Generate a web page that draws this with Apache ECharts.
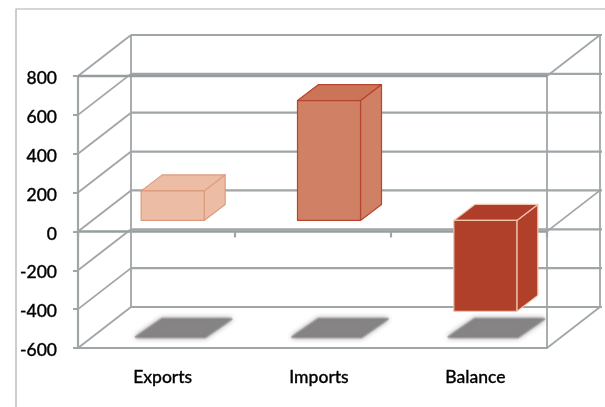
<!DOCTYPE html>
<html>
<head>
<meta charset="utf-8">
<style>html,body{margin:0;padding:0;background:#fff}#c{width:605px;height:407px}</style>
<script src="https://cdn.jsdelivr.net/npm/echarts@6/dist/echarts.min.js"></script>
</head>
<body>
<div id="c"></div>
<script>
const categories = ['Exports', 'Imports', 'Balance'];
const values = [152, 617, -468];
const yTicks = [-600, -400, -200, 0, 200, 400, 600, 800];
const fillColors = ['#EDBCA5', '#D08064', '#B0402A'];
const topColors = ['#EDBCA5', '#CC7458', '#AE3E29'];
const edgeColors = ['#DC9A7C', '#B9442D', '#F2C4AC'];

const WALL_DX = 53, WALL_DY = -41;
const BAR_DX = 21, BAR_DY = -16, BAR_SHIFT_X = 16.5, BAR_SHIFT_Y = -11, BAR_W = 63;
const LINE = '#A0A5A7';
const FONT = 'Lato, "Open Sans", sans-serif';

function seg(a, b, width, color) {
  return {
    type: 'line',
    shape: {x1: a[0], y1: a[1], x2: b[0], y2: b[1]},
    style: {stroke: color || LINE, lineWidth: width || 1.8}
  };
}

function renderWalls(params, api) {
  const n = categories.length;
  const size = api.size([1, 0])[0];
  const left = api.coord([0, 0])[0] - size / 2;
  const right = left + n * size;
  const children = [];
  const yOf = v => api.coord([0, v])[1];
  const yTop = yOf(yTicks[yTicks.length - 1]);
  const yBot = yOf(yTicks[0]);
  yTicks.forEach(function (t) {
    const y = yOf(t);
    children.push(seg([left + WALL_DX, y + WALL_DY], [right + WALL_DX + 2, y + WALL_DY], 2.2));
    children.push(seg([left, y], [left + WALL_DX, y + WALL_DY], 1.8));
  });
  children.push(seg([left + WALL_DX, yTop + WALL_DY], [left + WALL_DX, yBot + WALL_DY], 1.8));
  children.push(seg([right + WALL_DX, yTop + WALL_DY], [right + WALL_DX, yBot + WALL_DY], 1.8));
  children.push(seg([right, yTop], [right, yBot], 1.8));
  [yTop, yOf(0), yBot].forEach(function (y) {
    children.push(seg([right, y], [right + WALL_DX, y + WALL_DY], 1.7));
  });
  children.push(seg([left, yTop], [right, yTop], 2.6, '#979D9F'));
  return {type: 'group', children: children};
}

function renderShadow(params, api) {
  const p = api.coord([api.value(0), yTicks[0]]);
  const x = p[0] + 13, y = p[1];
  return {
    type: 'polygon',
    shape: {points: [[x - 33, y - 11], [x + 36, y - 11], [x + 62, y - 29], [x - 7, y - 29]]},
    style: {fill: '#868484', stroke: 'rgba(134,132,132,0.6)', lineWidth: 3, lineJoin: 'round',
      shadowBlur: 5, shadowColor: 'rgba(134,132,132,0.8)'}
  };
}

function renderBar(params, api) {
  const i = api.value(0);
  const v = api.value(1);
  const a = api.coord([i, v]);
  const b = api.coord([i, 0]);
  const x0 = a[0] + BAR_SHIFT_X - BAR_W / 2;
  const x1 = x0 + BAR_W;
  const yA = Math.min(a[1], b[1]) + BAR_SHIFT_Y;
  const yB = Math.max(a[1], b[1]) + BAR_SHIFT_Y;
  const edge = {stroke: edgeColors[i], lineWidth: 1.2, lineJoin: 'round'};
  return {
    type: 'group',
    children: [
      {type: 'polygon',
        shape: {points: [[x1, yA], [x1 + BAR_DX, yA + BAR_DY], [x1 + BAR_DX, yB + BAR_DY], [x1, yB]]},
        style: Object.assign({fill: fillColors[i]}, edge)},
      {type: 'polygon',
        shape: {points: [[x0, yA], [x0 + BAR_DX, yA + BAR_DY], [x1 + BAR_DX, yA + BAR_DY], [x1, yA]]},
        style: Object.assign({fill: topColors[i]}, edge)},
      {type: 'rect',
        shape: {x: x0, y: yA, width: BAR_W, height: yB - yA},
        style: Object.assign({fill: fillColors[i]}, edge)}
    ]
  };
}

const chart = echarts.init(document.getElementById('c'), null, {renderer: 'canvas'});
chart.setOption({
  animation: false,
  backgroundColor: '#fff',
  graphic: [
    {type: 'polyline', silent: true,
      shape: {points: [[16, 407], [16, 9], [605, 9]]},
      style: {stroke: '#ABADAE', lineWidth: 1.2, fill: null}}
  ],
  grid: {left: 78, right: 58, top: 76, bottom: 59},
  xAxis: [
    {type: 'category', data: categories, position: 'bottom',
      axisLine: {onZero: false, lineStyle: {color: LINE, width: 2.2}},
      axisTick: {show: false},
      axisLabel: {color: '#000', fontFamily: FONT, fontSize: 17.5, fontWeight: 500, margin: 20, padding: [0, 0, 0, 13],
        textBorderColor: '#000', textBorderWidth: 0.3},
      splitLine: {show: false}},
    {type: 'category', data: categories, position: 'top',
      axisLine: {onZero: true, lineStyle: {color: '#979D9F', width: 2.6}},
      axisTick: {show: true, inside: true, length: 6, lineStyle: {color: LINE, width: 2.2}},
      axisLabel: {show: false},
      splitLine: {show: false}}
  ],
  yAxis: {
    type: 'value', min: -600, max: 800, interval: 200,
    axisLine: {show: true, lineStyle: {color: LINE, width: 2.2}},
    axisTick: {show: true, length: 5, lineStyle: {color: LINE, width: 2}},
    axisLabel: {margin: 21,
      formatter: function (v) { return '{a|' + v + '}'; },
      rich: {a: {color: '#000', fontFamily: FONT, fontSize: 17.5, fontWeight: 500, padding: [5, 0, 0, 0],
        textBorderColor: '#000', textBorderWidth: 0.3}}},
    splitLine: {show: false}
  },
  series: [
    {type: 'custom', name: 'walls', z: 1, silent: true, renderItem: renderWalls,
      data: [[0, 0]], encode: {x: 0, y: 1}, clip: false},
    {type: 'custom', name: 'shadows', z: 2, silent: true, renderItem: renderShadow,
      data: categories.map((c, i) => [i, yTicks[0]]), encode: {x: 0, y: 1}, clip: false},
    {type: 'custom', name: 'bars', z: 3, silent: true, renderItem: renderBar,
      data: values.map((v, i) => [i, v]), encode: {x: 0, y: 1}, clip: false}
  ]
});
</script>
</body>
</html>
